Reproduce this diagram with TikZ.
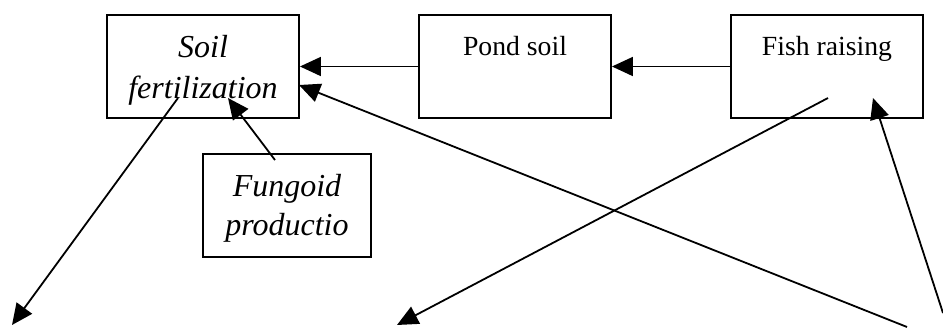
\documentclass[tikz,border=0pt]{standalone}
\usepackage{fontspec}
\setmainfont{Liberation Serif}
\usetikzlibrary{arrows.meta}
\begin{document}
\begin{tikzpicture}[x=1pt,y=-1pt,
  box/.style={draw, line width=1.9pt, rectangle, inner sep=0pt, minimum height=103pt},
  arr/.style={line width=1.8pt, -{Triangle[length=21pt,width=19pt]}},
  up/.style={font=\fontsize{27.7}{33}\selectfont, inner sep=0pt, anchor=base},
  it/.style={font=\fontsize{32}{38}\selectfont\itshape, inner sep=0pt, anchor=base}]
\useasboundingbox (0,0) rectangle (943,327);
% boxes
\node[box, minimum width=192pt] (soil) at (203,66.5) {};
\node[box, minimum width=192pt] (pond) at (515,66.5) {};
\node[box, minimum width=192pt] (fish) at (827,66.5) {};
\node[box, minimum width=168pt] (fung) at (287,205.5) {};
% texts
\node[it] (soilA) at (203,57) {Soil};
\node[it] (soilB) at (203,98) {fertilization};
\node[up] (pondT) at (515,55) {Pond soil};
\node[up] (fishT) at (827,55) {Fish raising};
\node[it] (fungA) at (287,196) {Fungoid};
\node[it] (fungB) at (287,235) {productio};
% free ends
\coordinate (fgS) at (275,160);
\coordinate (fgT) at (228,98);
\coordinate (slS) at (178,98);
\coordinate (blT) at (12,325);
\coordinate (fsS) at (828,98);
\coordinate (bmT) at (397,325);
\coordinate (brA) at (943,313);
\coordinate (fsT) at (873,98);
\coordinate (brB) at (907,327);
\coordinate (seT) at (299,85);
% connectors
\draw[arr] (pond.west) -- (soil.east);
\draw[arr] (fish.west) -- (pond.east);
\draw[arr] (fgS) -- (fgT);
\draw[arr] (slS) -- (blT);
\draw[arr] (fsS) -- (bmT);
\draw[arr] (brA) -- (fsT);
\draw[arr] (brB) -- (seT);
\end{tikzpicture}
\end{document}
